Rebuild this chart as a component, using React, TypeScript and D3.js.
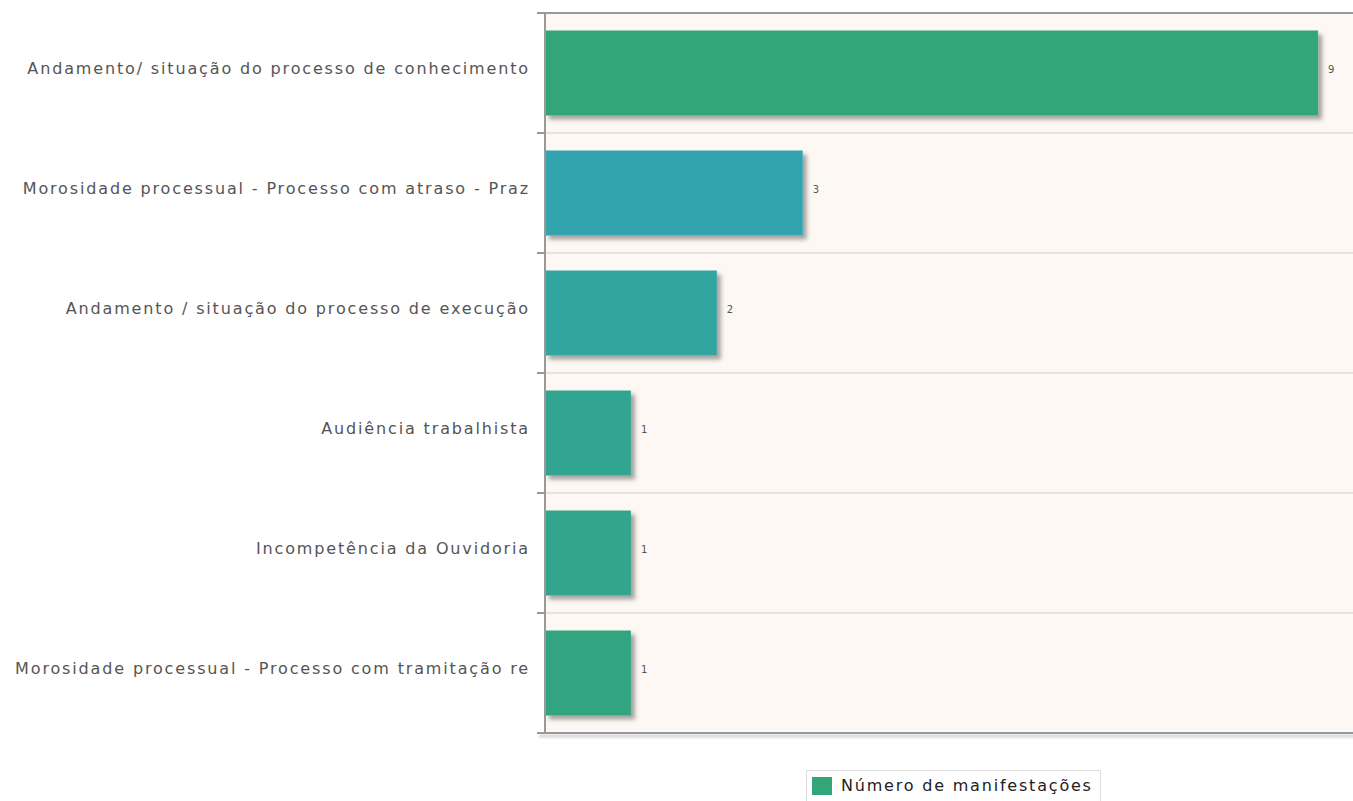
import React from "react";
import * as d3 from "d3";

const categories = [
  "Andamento/ situação do processo de conhecimento",
  "Morosidade processual - Processo com atraso - Praz",
  "Andamento / situação do processo de execução",
  "Audiência trabalhista",
  "Incompetência da Ouvidoria",
  "Morosidade processual - Processo com tramitação re",
];
const values = [9, 3, 2, 1, 1, 1];
const barColors = ["#32a579", "#31a4ae", "#31a5a1", "#31a592", "#31a58c", "#31a580"];
const seriesName = "Número de manifestações";

const W = 1353, H = 801;
const left = 545, top = 13, bottom = 733, right = 1404;

export default function App() {
  const y = d3.scaleBand<string>().domain(categories).range([top, bottom]).paddingInner(0).paddingOuter(0);
  const x = d3.scaleLinear().domain([0, 10]).range([left, right]);
  const barH = 85;
  const font = "'DejaVu Sans', Verdana, sans-serif";
  return (
    <svg width={W} height={H} style={{ position: "absolute", left: 0, top: 0, display: "block" }}>
      <defs>
        <filter id="sh" x="-10%" y="-20%" width="130%" height="150%">
          <feDropShadow dx="4" dy="4" stdDeviation="2" floodColor="#000" floodOpacity="0.35" />
        </filter>
        <filter id="sh2" filterUnits="userSpaceOnUse" x={500} y={720} width={900} height={30}>
          <feDropShadow dx="2" dy="3" stdDeviation="1.5" floodColor="#000" floodOpacity="0.25" />
        </filter>
      </defs>
      <rect x={0} y={0} width={W} height={H} fill="#fff" />
      <rect x={left} y={top} width={W - left} height={bottom - top} fill="#fdf8f4" />
      {categories.slice(1).map((c) => (
        <line key={c} x1={left} x2={W} y1={y(c)!} y2={y(c)!} stroke="#cfcfcf" strokeWidth={1} />
      ))}
      <line x1={left} x2={W} y1={top} y2={top} stroke="#999" strokeWidth={2} />
      {categories.map((c, i) => {
        const y0 = y(c)! + (y.bandwidth() - barH) / 2;
        return (
          <g key={c}>
            <rect x={x(0)} y={y0} width={x(values[i]) - x(0)} height={barH} fill={barColors[i]} filter="url(#sh)" />
            <text x={x(values[i]) + 10} y={y0 + barH / 2 - 4} dy="0.35em" fontSize={10} fill="#555" fontFamily={font}>
              {values[i]}
            </text>
            <text x={530} y={y(c)! + y.bandwidth() / 2 - 5} dy="0.35em" textAnchor="end" fontSize={16} letterSpacing={1.85} fill="#555" fontFamily={font}>
              {c}
            </text>
          </g>
        );
      })}
      {d3.range(categories.length + 1).map((i) => {
        const yy = top + i * y.step();
        return <line key={i} x1={537} x2={left} y1={yy} y2={yy} stroke="#999" strokeWidth={2} />;
      })}
      <rect x={537} y={bottom - 1} width={W - 537} height={2} fill="#999" filter="url(#sh2)" />
      <line x1={left} x2={left} y1={top} y2={bottom} stroke="#999" strokeWidth={2} />
      <g>
        <rect x={806.5} y={770.5} width={294} height={32} fill="#fff" stroke="#ddd" />
        <rect x={812} y={777} width={20} height={18} fill={barColors[0]} />
        <text x={841} y={785} dy="0.35em" fontSize={16} letterSpacing={1.8} fill="#222" fontFamily={font}>{seriesName}</text>
      </g>
    </svg>
  );
}
